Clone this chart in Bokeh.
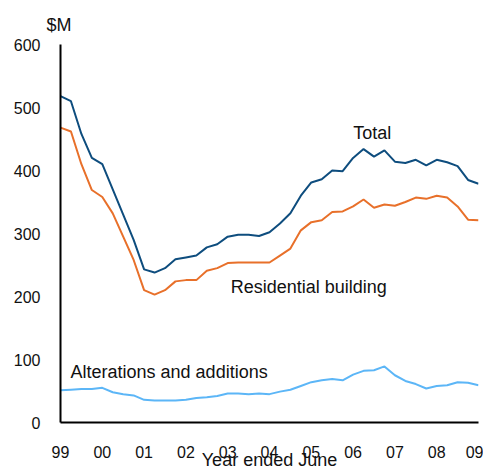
from bokeh.plotting import figure
from bokeh.models import FixedTicker, Range1d, Label
from bokeh.embed import file_html
from bokeh.resources import INLINE

# Quarterly observations, year ended June, 1999 Q2 .. 2009 Q2
quarters = [1999 + 0.25 * i for i in range(41)]

total = [518, 510, 458, 420, 410, 370, 330, 290, 243, 238,
         245, 259, 262, 265, 278, 283, 295, 298, 298, 296,
         302, 316, 332, 360, 381, 386, 400, 399, 420, 434,
         422, 432, 414, 412, 417, 408, 417, 413, 407, 385, 379]

residential = [468, 462, 410, 369, 358, 332, 295, 258, 210, 203,
               210, 224, 226, 226, 241, 245, 253, 254, 254, 254,
               254, 265, 276, 305, 318, 321, 334, 335, 343, 354,
               341, 346, 344, 350, 357, 355, 360, 357, 343, 322, 321]

alterations = [51, 52, 53, 53, 55, 48, 45, 43, 36, 35,
               35, 35, 36, 39, 40, 42, 46, 46, 45, 46,
               45, 49, 52, 58, 64, 67, 69, 67, 76, 82,
               83, 89, 75, 66, 61, 54, 58, 59, 64, 63, 59]

year_ticks = list(range(1999, 2010))
year_labels = ["99", "00", "01", "02", "03", "04", "05", "06", "07", "08", "09"]
y_ticks = [0, 100, 200, 300, 400, 500, 600]

FONT = "Liberation Sans"

p = figure(width=483, height=472, output_backend="svg", toolbar_location=None,
           x_range=Range1d(1999, 2009), y_range=Range1d(0, 600),
           title="$M",
           min_border_left=60, min_border_right=5, min_border_top=44,
           min_border_bottom=48)
p.outline_line_color = None
p.xgrid.grid_line_color = None
p.ygrid.grid_line_color = None

p.title.text_font = FONT
p.title.text_font_size = "18px"
p.title.text_font_style = "normal"
p.title.text_color = "#111111"
p.title.offset = -14
p.title.standoff = 20

p.line(quarters, total, line_color="#0e4d7e", line_width=2)
p.line(quarters, residential, line_color="#e8702a", line_width=2)
p.line(quarters, alterations, line_color="#5cb6f7", line_width=2)

p.xaxis.ticker = FixedTicker(ticks=year_ticks)
p.xaxis.major_label_overrides = {t: l for t, l in zip(year_ticks, year_labels)}
p.yaxis.ticker = FixedTicker(ticks=y_ticks)
for ax in (p.xaxis, p.yaxis):
    ax.major_tick_line_color = None
    ax.minor_tick_line_color = None
    ax.major_tick_in = 0
    ax.major_tick_out = 0
    ax.minor_tick_in = 0
    ax.minor_tick_out = 0
    ax.axis_line_color = "black"
    ax.axis_line_width = 2
    ax.major_label_text_font = FONT
    ax.major_label_text_font_size = "16px"
    ax.major_label_text_color = "#111111"
p.xaxis.major_label_standoff = 23
p.yaxis.major_label_standoff = 20
p.xaxis.axis_label = "Year ended June"
p.xaxis.axis_label_text_font = FONT
p.xaxis.axis_label_text_font_size = "18px"
p.xaxis.axis_label_text_font_style = "normal"
p.xaxis.axis_label_text_color = "#111111"
p.xaxis.axis_label_standoff = -11

def lab(x, y, text, align="left", baseline="middle"):
    p.add_layout(Label(x=x, y=y, text=text, text_font=FONT, text_font_size="18px",
                       text_color="#111111", text_align=align, text_baseline=baseline))

lab(2006.46, 460, "Total", align="center")
lab(2003.07, 215, "Residential building")
lab(1999.24, 80, "Alterations and additions")

open("out.html", "w").write(file_html(p, INLINE))
